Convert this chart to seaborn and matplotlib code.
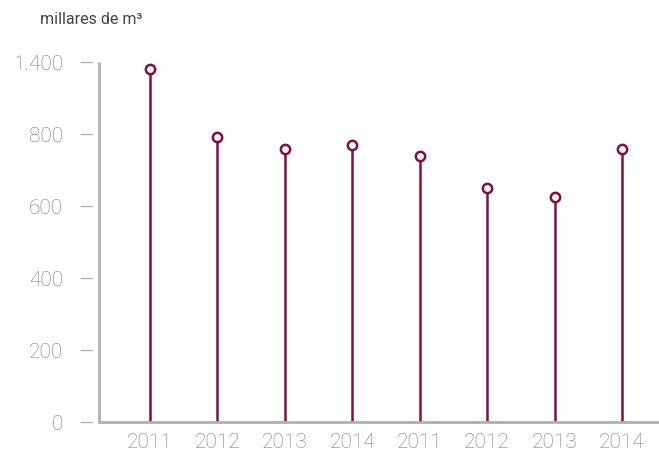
import numpy as np
import matplotlib
matplotlib.use("Agg")
import matplotlib.pyplot as plt
import seaborn as sns

# datos (millares de m3)
years = ["2011", "2012", "2013", "2014", "2011", "2012", "2013", "2014"]
values = [1340, 792, 758, 769, 739, 651, 626, 759]
yticks = [0, 200, 400, 600, 800, 1400]
ytick_labels = ["0", "200", "400", "600", "800", "1.400"]

sns.set_style("white")
plt.rcParams["font.family"] = ["Roboto", "DejaVu Sans"]

stem_col = "#82103f"
axis_col = "#b0b0b0"
text_col = "#7c7c7c"


# eje roto: por encima de 800 la escala se comprime
def fwd(v):
    v = np.asarray(v, dtype=float)
    return np.where(v <= 800, v, 800 + (v - 800) / 3.0)


def inv(p):
    p = np.asarray(p, dtype=float)
    return np.where(p <= 800, p, 800 + (p - 800) * 3.0)


fig = plt.figure(figsize=(6.59, 4.55), dpi=100)
ax = fig.add_axes([99 / 659, (455 - 422) / 455, 560 / 659, 360 / 455])
ax.set_yscale("function", functions=(fwd, inv))

x = np.arange(len(values))
ax.vlines(x, 0, values, color=stem_col, lw=1.8, zorder=2)
sns.scatterplot(x=x, y=values, ax=ax, s=45, facecolor="white",
                edgecolor=stem_col, linewidth=1.8, zorder=3, clip_on=False)

ax.set_xlim(-0.757, 7.55)
ax.set_ylim(0, 1400)
ax.set_xticks(x)
ax.set_xticklabels(years)
ax.set_yticks(yticks)
ax.set_yticklabels(ytick_labels)
ax.minorticks_off()

for s in ["top", "right"]:
    ax.spines[s].set_visible(False)
ax.spines["bottom"].set_color(axis_col)
ax.spines["bottom"].set_linewidth(2)
ax.spines["left"].set_position(("outward", 5))
ax.spines["left"].set_visible(False)
ax.plot([0, 0], [0, 1], transform=ax.transAxes, color=axis_col, lw=2,
        clip_on=False, solid_capstyle="butt")

ax.tick_params(axis="y", direction="out", length=9, width=1, color=axis_col,
               pad=12, labelsize=15, labelcolor=text_col, left=True)
ax.tick_params(axis="x", length=0, pad=8, labelsize=15, labelcolor=text_col)
for lab in ax.get_xticklabels() + ax.get_yticklabels():
    lab.set_fontweight("light")

fig.text(40 / 659, 1 - 19 / 455, "millares de m³", fontsize=11.5,
         color="#444444", va="center", ha="left")

fig.savefig("out.png", dpi=100)
